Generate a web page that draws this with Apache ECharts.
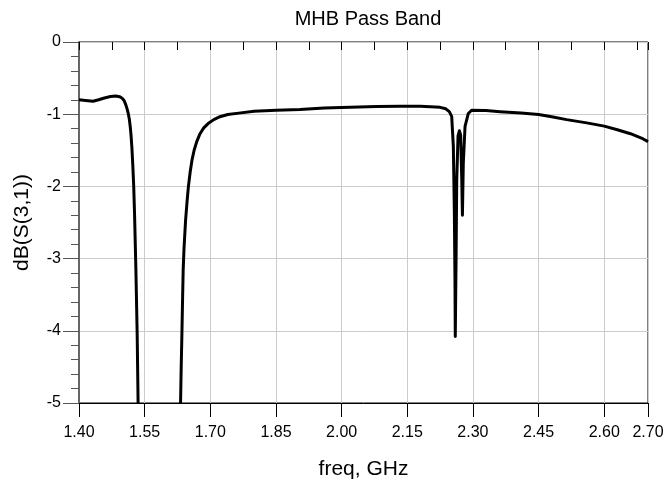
<!DOCTYPE html>
<html>
<head>
<meta charset="utf-8">
<script src="https://cdn.jsdelivr.net/npm/echarts@6/dist/echarts.min.js"></script>
<style>
html,body{margin:0;padding:0;background:#fff;}
#chart{width:667px;height:486px;}
</style>
</head>
<body>
<div id="chart"></div>
<script>
// ---- data ----
const titleText = 'MHB Pass Band';
const xName = 'freq, GHz';
const yName = 'dB(S(3,1))';
const xMin = 1.40, xMax = 2.70, xStep = 0.15, xMinorStep = 0.075;
const yMin = -5, yMax = 0, yStep = 1;

const freq = [
  1.400, 1.415, 1.432, 1.445, 1.458, 1.472, 1.484, 1.4925, 1.498, 1.503,
  1.507, 1.510, 1.5125, 1.515, 1.517, 1.519, 1.521, 1.523, 1.525, 1.527,
  1.530, 1.533, 1.535,
  1.580,
  1.632, 1.6335, 1.635, 1.6365, 1.638, 1.640, 1.6435, 1.647, 1.650, 1.654,
  1.658, 1.663, 1.669, 1.6765, 1.685, 1.695, 1.708, 1.722, 1.740, 1.765,
  1.800, 1.850, 1.905, 1.960, 2.020, 2.080, 2.133, 2.180, 2.225, 2.238,
  2.246, 2.2515, 2.2553, 2.2576, 2.259, 2.2597, 2.2615, 2.263, 2.266, 2.269,
  2.272, 2.2745, 2.276, 2.278, 2.282, 2.2895, 2.297, 2.330, 2.362, 2.410,
  2.450, 2.480, 2.514, 2.560, 2.600, 2.630, 2.660, 2.685, 2.700
];
const dB = [
  -0.80, -0.81, -0.82, -0.80, -0.775, -0.755, -0.748, -0.757, -0.775, -0.81,
  -0.87, -0.93, -0.99, -1.07, -1.17, -1.30, -1.48, -1.72, -2.00, -2.40,
  -3.16, -4.08, -5.00,
  null,
  -5.00, -4.50, -4.08, -3.60, -3.16, -2.85, -2.47, -2.20, -2.00, -1.80,
  -1.64, -1.50, -1.38, -1.27, -1.19, -1.13, -1.075, -1.035, -1.005, -0.985,
  -0.96, -0.945, -0.935, -0.915, -0.905, -0.895, -0.89, -0.89, -0.905, -0.925,
  -0.965, -1.03, -1.45, -2.37, -3.30, -4.08, -3.00, -1.91, -1.30, -1.23,
  -1.29, -1.91, -2.40, -1.68, -1.17, -0.99, -0.945, -0.95, -0.965, -0.985,
  -1.005, -1.035, -1.075, -1.12, -1.165, -1.215, -1.27, -1.33, -1.38
];

const seriesData = freq.map((f, i) => [f, dB[i] === null ? '-' : dB[i]]);
const FONT = '"Liberation Sans", Arial, Helvetica, sans-serif';

const chart = echarts.init(document.getElementById('chart'), null, {renderer: 'canvas'});
chart.setOption({
  animation: false,
  backgroundColor: '#fff',
  title: {
    text: titleText,
    left: 363, top: 4, textAlign: 'center',
    textStyle: {fontFamily: FONT, fontSize: 20, fontWeight: 'normal', color: '#000'}
  },
  grid: {
    left: 79, right: 19, top: 42, bottom: 83,
    show: true, borderColor: '#000', borderWidth: 1, backgroundColor: 'transparent'
  },
  xAxis: [{
    type: 'value', min: xMin, max: xMax, interval: xStep,
    name: xName, nameLocation: 'middle', nameGap: 56,
    nameTextStyle: {fontFamily: FONT, fontSize: 21, color: '#000'},
    axisLine: {show: true, onZero: false, lineStyle: {color: '#000', width: 1}},
    axisTick: {show: true, length: 14, lineStyle: {color: '#000', width: 1}},
    axisLabel: {
      fontFamily: FONT, fontSize: 16, color: '#000', margin: 22,
      showMinLabel: true, showMaxLabel: true, hideOverlap: false,
      formatter: v => v.toFixed(2)
    },
    splitLine: {show: true, lineStyle: {color: '#cccccc', width: 1}}
  }, {
    type: 'value', min: xMin, max: xMax, interval: xMinorStep, position: 'bottom',
    axisLine: {show: false},
    axisTick: {show: true, length: 8, lineStyle: {color: '#000', width: 1}},
    axisLabel: {show: false},
    splitLine: {show: false}
  }],
  yAxis: {
    type: 'value', min: yMin, max: yMax, interval: yStep,
    name: yName, nameLocation: 'middle', nameGap: 46, nameRotate: 90,
    nameTextStyle: {fontFamily: FONT, fontSize: 21, color: '#000'},
    axisLine: {show: true, onZero: false, lineStyle: {color: '#666', width: 2}},
    axisTick: {show: true, length: 16, lineStyle: {color: '#555', width: 1}},
    minorTick: {show: true, splitNumber: 5, length: 8, lineStyle: {color: '#555', width: 1}},
    axisLabel: {fontFamily: FONT, fontSize: 16, color: '#000', margin: 18},
    splitLine: {show: true, lineStyle: {color: '#cccccc', width: 1}}
  },
  series: [{
    type: 'line',
    data: seriesData,
    xAxisIndex: 0,
    showSymbol: false,
    symbol: 'none',
    connectNulls: false,
    smooth: false,
    clip: true,
    lineStyle: {color: '#000', width: 3, cap: 'butt', join: 'round'}
  }]
});
</script>
</body>
</html>
